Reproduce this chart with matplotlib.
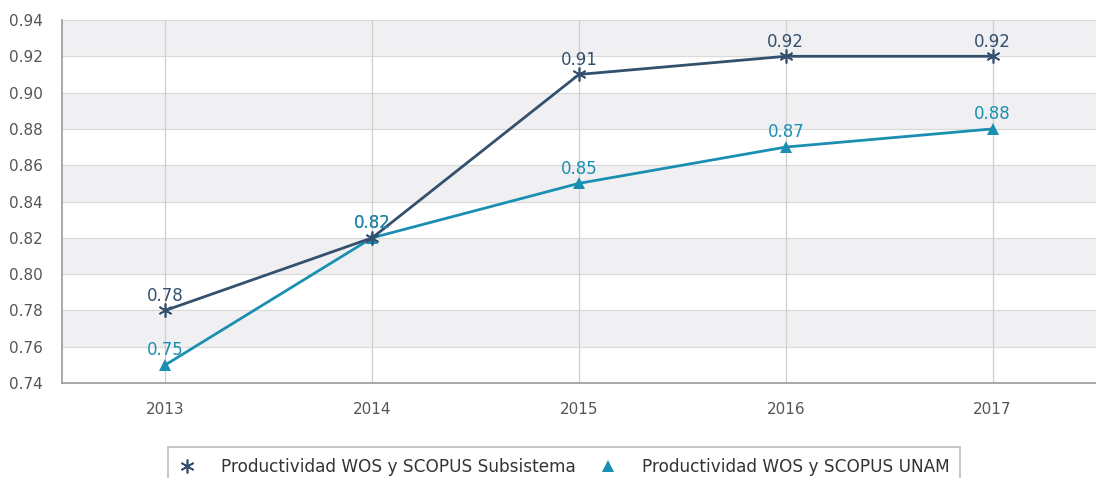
import matplotlib
matplotlib.use("Agg")
import matplotlib.pyplot as plt
import numpy as np

plt.rcParams["font.family"] = ["DejaVu Sans"]

years = ["2013", "2014", "2015", "2016", "2017"]
subsistema = [0.78, 0.82, 0.91, 0.92, 0.92]
unam = [0.75, 0.82, 0.85, 0.87, 0.88]
yticks = [0.74, 0.76, 0.78, 0.80, 0.82, 0.84, 0.86, 0.88, 0.90, 0.92, 0.94]
labels = ["Productividad WOS y SCOPUS Subsistema", "Productividad WOS y SCOPUS UNAM"]

c_dark = "#33506e"
c_light = "#1b8fb2"

fig = plt.figure(figsize=(10.96, 4.78), dpi=100)
ax = fig.add_axes([62/1096, 1-383/478, 1-62/1096, (383-20)/478])

x = np.arange(len(years))
ax.set_xlim(-0.5, len(years)-0.5)
ax.set_ylim(yticks[0], yticks[-1])

# alternating bands
for i in range(len(yticks)-1):
    if i % 2 == 1:
        ax.axhspan(yticks[i], yticks[i+1], color="#f0f0f2", zorder=0, lw=0)
for y in yticks:
    ax.axhline(y, color="#d9d9d9", lw=0.9, zorder=1)
for xi in x:
    ax.axvline(xi, color="#cfcfcf", lw=0.9, zorder=1)

ax.plot(x, subsistema, color=c_dark, lw=2, marker=(6, 2, 0), ms=10, mew=1.2,
        zorder=4, label=labels[0])
ax.plot(x, unam, color=c_light, lw=2, marker="^", ms=9, mew=0,
        zorder=3, label=labels[1])

for xi, v in zip(x, subsistema):
    ax.annotate(f"{v:.2f}", (xi, v), xytext=(0, 4), textcoords="offset points",
                ha="center", va="bottom", color=c_dark, fontsize=12, zorder=5)
for xi, v in zip(x, unam):
    ax.annotate(f"{v:.2f}", (xi, v), xytext=(0, 4), textcoords="offset points",
                ha="center", va="bottom", color=c_light, fontsize=12, zorder=5)

ax.set_xticks(x)
ax.set_xticklabels(years)
ax.set_yticks(yticks)
ax.set_yticklabels([f"{v:.2f}" for v in yticks])
ax.tick_params(axis="both", length=0, colors="#555555", labelsize=11)
ax.tick_params(axis="x", pad=14)
ax.tick_params(axis="y", pad=14)

for s in ["top", "right"]:
    ax.spines[s].set_visible(False)
for s in ["left", "bottom"]:
    ax.spines[s].set_color("#999999")
    ax.spines[s].set_linewidth(1.2)

leg = fig.legend(loc="upper center", bbox_to_anchor=(564/1096, 1-439/478), ncol=2,
                 frameon=True, fancybox=False, edgecolor="#aaaaaa", fontsize=12.2,
                 handlelength=1.0, columnspacing=1.4, borderpad=0.6, handletextpad=1.5)
for h in leg.legend_handles:
    h.set_linestyle("none")
leg.get_frame().set_linewidth(1.2)
for t in leg.get_texts():
    t.set_color("#333333")

fig.savefig("out.png", dpi=100)
